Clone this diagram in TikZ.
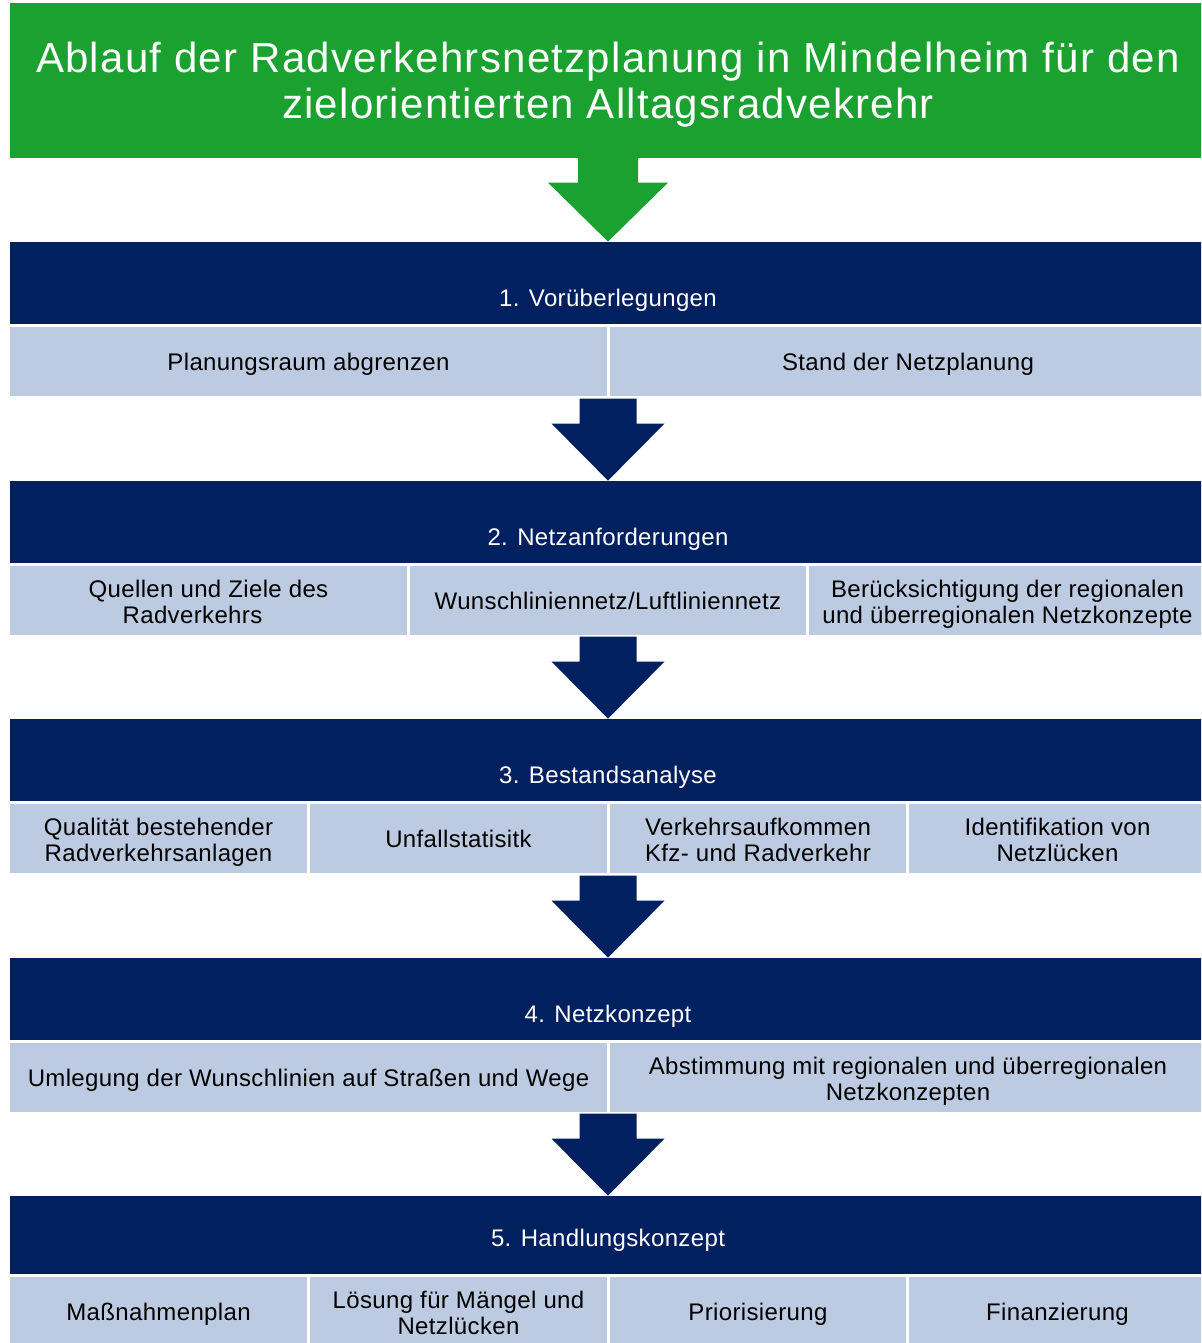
\documentclass[tikz,border=0pt]{standalone}
\usepackage{fontspec}
\setmainfont[LetterSpace=1.5]{Liberation Sans}
\newfontfamily\titlefont[LetterSpace=3.0]{Liberation Sans}
\definecolor{hgreen}{RGB}{27,161,47}
\definecolor{hnavy}{RGB}{0,32,96}
\definecolor{hlight}{RGB}{188,203,225}
\newcommand\hstrut{\rule{0pt}{12pt}}
\newcommand\dstrut{\rule[-3.4pt]{0pt}{3.4pt}}
\newcommand\twoline{\rule{0pt}{13.3pt}}
\tikzset{
  cellbox/.style={fill=hlight, draw=none, inner sep=0pt, align=center, text=black,
    font=\fontsize{12}{13}\selectfont,
    execute at begin node=\hstrut, execute at end node=\dstrut},
  bandbox/.style={fill=hnavy, draw=none, inner sep=0pt, minimum width=598pt},
  bandtext/.style={text=white, inner sep=0pt, anchor=base, font=\fontsize{12}{13}\selectfont},
  titlebox/.style={fill=hgreen, draw=none, inner sep=0pt, minimum width=598pt, minimum height=77.5pt},
  titletext/.style={inner sep=0pt, align=center, text=white,
    font=\titlefont\fontsize{21}{23}\selectfont},
  navyarrow/.style={fill=hnavy, draw=none},
  greenarrow/.style={fill=hgreen, draw=none},
}
% name, x1, x2, y-centre, height(px), text
\newcommand\mkcell[6]{\node[cellbox, minimum width={(#3-#2)*0.5pt}, minimum height={#5*0.5pt}] (#1) at ({(#2+#3)/2},{#4}) {#6};}
% name, top, height(px), baseline offset, text
\newcommand\mkband[5]{%
  \node[bandbox, minimum height={#3*0.5pt}] (#1) at (608,{#2+#3/2}) {};
  \node[bandtext] (#1t) at (608,{#2+#4}) {#5};}
\newcommand\mkarrow[1]{%
  \fill[navyarrow] (#1.north) -- ++(-56.5,-57) -- ++(28,0) -- ++(0,-25) -- ++(57,0) -- ++(0,25) -- ++(28,0) -- cycle;}
\begin{document}
\begin{tikzpicture}[x=0.5pt,y=-0.5pt]
\useasboundingbox (0,0) rectangle (1201,1343);
\clip (0,0) rectangle (1201,1343);
\fill[white] (0,0) rectangle (1201,1343);
% title
\node[titlebox] (title) at (608,80.5) {};
\node[titletext] (titlet) at (608,84.5) {Ablauf der Radverkehrsnetzplanung in Mindelheim für den\\zielorientierten Alltagsradvekrehr};
% bands
\mkband{b1}{242}{82}{64}{1. Vorüberlegungen}
\mkband{b2}{481}{82}{64}{2. Netzanforderungen}
\mkband{b3}{719}{82}{64}{3. Bestandsanalyse}
\mkband{b4}{958}{82}{64}{4. Netzkonzept}
\mkband{b5}{1196}{78}{50}{5. Handlungskonzept}
% green arrow
\fill[greenarrow] (b1.north) -- ++(-60,-59) -- ++(30,0) -- ++(0,-25) -- ++(60,0) -- ++(0,25) -- ++(30,0) -- cycle;
% row 1
\mkcell{c11}{10}{607}{361.5}{69}{Planungsraum abgrenzen}
\mkcell{c12}{610}{1206}{361.5}{69}{Stand der Netzplanung}
% row 2
\mkcell{c21}{10}{407}{600.5}{69}{\twoline Quellen und Ziele des\\Radverkehrs\hspace*{16pt}}
\mkcell{c22}{410}{806}{600.5}{69}{Wunschliniennetz/Luftliniennetz}
\mkcell{c23}{809}{1206}{600.5}{69}{\twoline Berücksichtigung der regionalen\\und überregionalen Netzkonzepte}
% row 3
\mkcell{c31}{10}{307}{838.5}{69}{\twoline Qualität bestehender\\Radverkehrsanlagen}
\mkcell{c32}{310}{607}{838.5}{69}{Unfallstatisitk}
\mkcell{c33}{610}{906}{838.5}{69}{\twoline Verkehrsaufkommen\\Kfz- und Radverkehr}
\mkcell{c34}{909}{1206}{838.5}{69}{\twoline Identifikation von\\Netzlücken}
% row 4
\mkcell{c41}{10}{607}{1077.5}{69}{Umlegung der Wunschlinien auf Straßen und Wege}
\mkcell{c42}{610}{1206}{1077.5}{69}{\twoline Abstimmung mit regionalen und überregionalen\\Netzkonzepten}
% row 5
\mkcell{c51}{10}{307}{1312}{70}{Maßnahmenplan}
\mkcell{c52}{310}{607}{1312}{70}{\twoline Lösung für Mängel und\\Netzlücken}
\mkcell{c53}{610}{906}{1312}{70}{Priorisierung}
\mkcell{c54}{909}{1206}{1312}{70}{Finanzierung}
% navy arrows
\mkarrow{b2}
\mkarrow{b3}
\mkarrow{b4}
\mkarrow{b5}
\end{tikzpicture}
\end{document}
